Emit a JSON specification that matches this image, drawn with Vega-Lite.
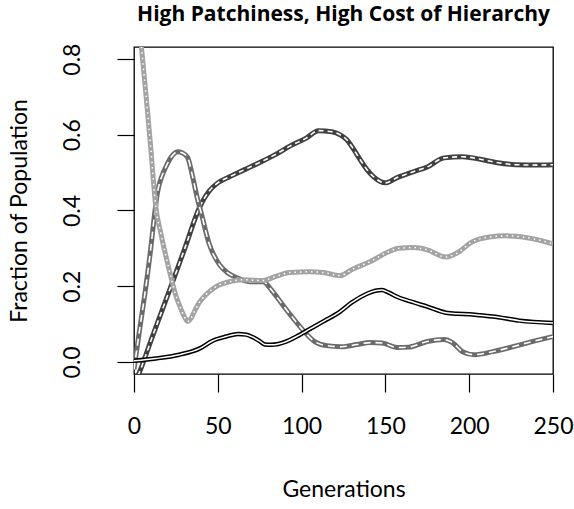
{
  "$schema": "https://vega.github.io/schema/vega-lite/v6.json",
  "autosize": "none",
  "padding": {"left": 134, "top": 47, "right": 21, "bottom": 135},
  "width": 419,
  "height": 327,
  "background": "white",
  "config": {
    "view": {"stroke": "black", "strokeWidth": 1.3},
    "font": "Lato",
    "axis": {"grid": false, "domain": false, "tickColor": "black", "tickWidth": 1.2, "labelColor": "black", "titleColor": "black", "titleFontWeight": "normal", "labelFont": "Lato", "titleFont": "Lato", "labelFontSize": 23, "titleFontSize": 23}
  },
  "title": {"text": "High Patchiness, High Cost of Hierarchy", "fontSize": 21, "fontWeight": "bold", "font": "Open Sans", "anchor": "middle", "offset": 18, "color": "black"},
  "data": {"values": [
    {"s":"A","g":0,"v":-0.058},{"s":"A","g":3,"v":-0.03},{"s":"A","g":10,"v":0.055},{"s":"A","g":20,"v":0.175},{"s":"A","g":30,"v":0.296},{"s":"A","g":39,"v":0.407},{"s":"A","g":45,"v":0.452},{"s":"A","g":50,"v":0.473},{"s":"A","g":57,"v":0.489},{"s":"A","g":66,"v":0.508},{"s":"A","g":75,"v":0.527},{"s":"A","g":84,"v":0.547},{"s":"A","g":93,"v":0.57},{"s":"A","g":103,"v":0.592},{"s":"A","g":110,"v":0.611},{"s":"A","g":118,"v":0.608},{"s":"A","g":123,"v":0.6},{"s":"A","g":127,"v":0.587},{"s":"A","g":131,"v":0.562},{"s":"A","g":135,"v":0.534},{"s":"A","g":139,"v":0.508},{"s":"A","g":143,"v":0.489},{"s":"A","g":150,"v":0.473},{"s":"A","g":157,"v":0.487},{"s":"A","g":167,"v":0.503},{"s":"A","g":175,"v":0.515},{"s":"A","g":185,"v":0.539},{"s":"A","g":196,"v":0.542},{"s":"A","g":206,"v":0.536},{"s":"A","g":216,"v":0.527},{"s":"A","g":228,"v":0.521},{"s":"A","g":240,"v":0.52},{"s":"A","g":250,"v":0.521},
    {"s":"B","g":0,"v":-0.02},{"s":"B","g":3.5,"v":0.09},{"s":"B","g":7,"v":0.196},{"s":"B","g":10,"v":0.3},{"s":"B","g":12,"v":0.38},{"s":"B","g":14,"v":0.447},{"s":"B","g":17,"v":0.495},{"s":"B","g":19,"v":0.515},{"s":"B","g":22,"v":0.54},{"s":"B","g":26,"v":0.555},{"s":"B","g":29,"v":0.552},{"s":"B","g":32,"v":0.54},{"s":"B","g":35,"v":0.489},{"s":"B","g":38,"v":0.428},{"s":"B","g":40,"v":0.395},{"s":"B","g":45,"v":0.31},{"s":"B","g":51,"v":0.257},{"s":"B","g":56,"v":0.235},{"s":"B","g":61,"v":0.223},{"s":"B","g":69,"v":0.212},{"s":"B","g":77,"v":0.212},{"s":"B","g":82,"v":0.19},{"s":"B","g":88,"v":0.155},{"s":"B","g":95,"v":0.115},{"s":"B","g":102,"v":0.078},{"s":"B","g":108,"v":0.053},{"s":"B","g":115,"v":0.043},{"s":"B","g":124,"v":0.04},{"s":"B","g":133,"v":0.046},{"s":"B","g":141,"v":0.051},{"s":"B","g":148,"v":0.05},{"s":"B","g":157,"v":0.038},{"s":"B","g":164,"v":0.039},{"s":"B","g":175,"v":0.054},{"s":"B","g":185,"v":0.059},{"s":"B","g":190,"v":0.051},{"s":"B","g":196,"v":0.027},{"s":"B","g":203,"v":0.019},{"s":"B","g":214,"v":0.027},{"s":"B","g":226,"v":0.04},{"s":"B","g":238,"v":0.054},{"s":"B","g":250,"v":0.067},
    {"s":"C","g":0,"v":1.05},{"s":"C","g":4.4,"v":0.833},{"s":"C","g":8,"v":0.665},{"s":"C","g":10,"v":0.565},{"s":"C","g":13,"v":0.41},{"s":"C","g":16,"v":0.34},{"s":"C","g":19,"v":0.28},{"s":"C","g":22,"v":0.225},{"s":"C","g":25,"v":0.175},{"s":"C","g":28,"v":0.14},{"s":"C","g":30,"v":0.12},{"s":"C","g":32,"v":0.107},{"s":"C","g":34,"v":0.115},{"s":"C","g":36,"v":0.133},{"s":"C","g":39,"v":0.157},{"s":"C","g":43,"v":0.178},{"s":"C","g":49,"v":0.199},{"s":"C","g":57,"v":0.212},{"s":"C","g":65,"v":0.217},{"s":"C","g":77,"v":0.215},{"s":"C","g":84,"v":0.225},{"s":"C","g":93,"v":0.236},{"s":"C","g":105,"v":0.238},{"s":"C","g":113,"v":0.236},{"s":"C","g":123,"v":0.228},{"s":"C","g":130,"v":0.244},{"s":"C","g":141,"v":0.265},{"s":"C","g":151,"v":0.289},{"s":"C","g":158,"v":0.3},{"s":"C","g":167,"v":0.302},{"s":"C","g":175,"v":0.296},{"s":"C","g":186,"v":0.277},{"s":"C","g":194,"v":0.291},{"s":"C","g":201,"v":0.315},{"s":"C","g":212,"v":0.33},{"s":"C","g":222,"v":0.333},{"s":"C","g":232,"v":0.33},{"s":"C","g":250,"v":0.312},
    {"s":"D","g":0,"v":0.003},{"s":"D","g":13,"v":0.009},{"s":"D","g":27,"v":0.019},{"s":"D","g":39,"v":0.035},{"s":"D","g":47,"v":0.056},{"s":"D","g":55,"v":0.067},{"s":"D","g":62,"v":0.074},{"s":"D","g":67,"v":0.072},{"s":"D","g":71,"v":0.065},{"s":"D","g":75,"v":0.055},{"s":"D","g":78,"v":0.046},{"s":"D","g":82,"v":0.045},{"s":"D","g":91,"v":0.054},{"s":"D","g":97,"v":0.067},{"s":"D","g":105,"v":0.087},{"s":"D","g":113,"v":0.107},{"s":"D","g":123,"v":0.133},{"s":"D","g":130,"v":0.157},{"s":"D","g":139,"v":0.18},{"s":"D","g":144,"v":0.188},{"s":"D","g":148,"v":0.19},{"s":"D","g":152,"v":0.183},{"s":"D","g":157,"v":0.172},{"s":"D","g":167,"v":0.157},{"s":"D","g":175,"v":0.146},{"s":"D","g":186,"v":0.13},{"s":"D","g":193,"v":0.127},{"s":"D","g":200,"v":0.126},{"s":"D","g":207,"v":0.123},{"s":"D","g":214,"v":0.12},{"s":"D","g":230,"v":0.109},{"s":"D","g":250,"v":0.103}
  ]},
  "encoding": {
    "x": {"field": "g", "type": "quantitative", "title": "Generations",
      "scale": {"domain": [0, 250], "nice": false, "zero": false},
      "axis": {"values": [0, 50, 100, 150, 200, 250], "tickSize": 18, "labelPadding": 23, "titlePadding": 40, "labelBaseline": "top", "labelFlush": false}},
    "y": {"field": "v", "type": "quantitative", "title": "Fraction of Population",
      "scale": {"domain": [-0.032, 0.832], "nice": false, "zero": false},
      "axis": {"values": [0, 0.2, 0.4, 0.6, 0.8], "format": ".1f", "tickSize": 17, "labelAngle": 270, "labelAlign": "center", "labelBaseline": "bottom", "labelPadding": 33, "titlePadding": 30, "labelFlush": false}}
  },
  "layer": [
    {"transform": [{"filter": "datum.s === 'A'"}], "mark": {"type": "line", "color": "#404040", "strokeWidth": 5, "interpolate": "monotone", "clip": true}},
    {"transform": [{"filter": "datum.s === 'A'"}], "mark": {"type": "line", "color": "white", "strokeWidth": 1.6, "strokeDash": [5, 4], "interpolate": "monotone", "clip": true}},
    {"transform": [{"filter": "datum.s === 'B'"}], "mark": {"type": "line", "color": "#6b6b6b", "strokeWidth": 5, "interpolate": "monotone", "clip": true}},
    {"transform": [{"filter": "datum.s === 'B'"}], "mark": {"type": "line", "color": "white", "strokeWidth": 1.6, "strokeDash": [7, 5], "interpolate": "monotone", "clip": true}},
    {"transform": [{"filter": "datum.s === 'C'"}], "mark": {"type": "line", "color": "#a3a3a3", "strokeWidth": 5, "interpolate": "monotone", "clip": true}},
    {"transform": [{"filter": "datum.s === 'C'"}], "mark": {"type": "line", "color": "white", "strokeWidth": 1.5, "strokeDash": [1.5, 4], "interpolate": "monotone", "clip": true}},
    {"transform": [{"filter": "datum.s === 'D'"}], "mark": {"type": "line", "color": "black", "strokeWidth": 4.5, "interpolate": "monotone", "clip": true}},
    {"transform": [{"filter": "datum.s === 'D'"}], "mark": {"type": "line", "color": "white", "strokeWidth": 1.5, "interpolate": "monotone", "clip": true}}
  ]
}
